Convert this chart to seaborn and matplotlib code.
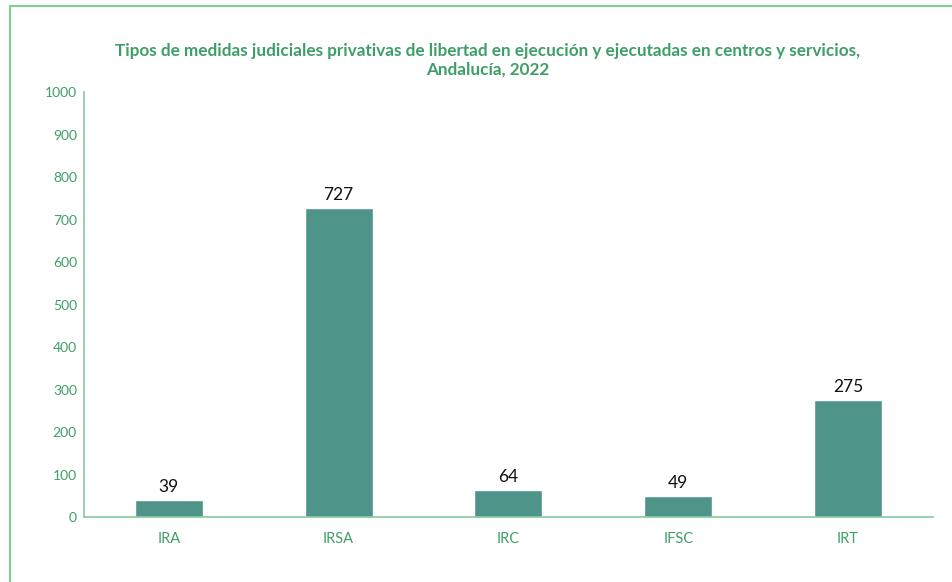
import pandas as pd
import matplotlib.pyplot as plt
import seaborn as sns
from matplotlib.patches import Rectangle

# Datos
medidas = ['IRA', 'IRSA', 'IRC', 'IFSC', 'IRT']
valores = [39, 727, 64, 49, 275]
y_ticks = [0, 100, 200, 300, 400, 500, 600, 700, 800, 900, 1000]

titulo = ('Tipos de medidas judiciales privativas de libertad en ejecución y ejecutadas en centros y servicios,\n'
          'Andalucía, 2022')

df = pd.DataFrame({'medida': medidas, 'valor': valores})

sns.set_style('white')
plt.rcParams['font.family'] = ['Lato', 'DejaVu Sans']

verde = '#3E9E68'
verde_eje = '#86C9A0'
color_barra = '#4F9488'

fig = plt.figure(figsize=(9.53, 5.82), dpi=100)
ax = fig.add_axes([0.088, 0.1117, 0.891, 0.730])

sns.barplot(data=df, x='medida', y='valor', color=color_barra, width=0.4,
            saturation=1, ax=ax)

for i, v in enumerate(valores):
    ax.text(i, v + 12, str(v), ha='center', va='bottom', fontsize=12.5, color='#111111')

ax.set_ylim(0, 1000)
ax.set_xlim(-0.5, len(medidas) - 0.5)
ax.set_yticks(y_ticks)
ax.set_xlabel('')
ax.set_ylabel('')
ax.tick_params(axis='both', length=0, colors=verde, labelsize=10)
ax.tick_params(axis='y', pad=5)
ax.tick_params(axis='x', pad=11)
for lab in ax.get_xticklabels():
    lab.set_fontsize(10.5)

for s in ['top', 'right']:
    ax.spines[s].set_visible(False)
for s in ['left', 'bottom']:
    ax.spines[s].set_color(verde_eje)
    ax.spines[s].set_linewidth(1.2)

fig.text(0.512, 0.897, titulo, ha='center', va='center', fontsize=12.3,
         fontweight='bold', color=verde, linespacing=1.2)

# marco exterior (solo se ven arriba e izquierda)
fig.patches.append(Rectangle((0.0105, -0.2), 1.2, 0.2 + 0.9897, transform=fig.transFigure,
                             fill=False, edgecolor='#7FD08F', linewidth=1.5))

fig.savefig('out.png', dpi=100)
